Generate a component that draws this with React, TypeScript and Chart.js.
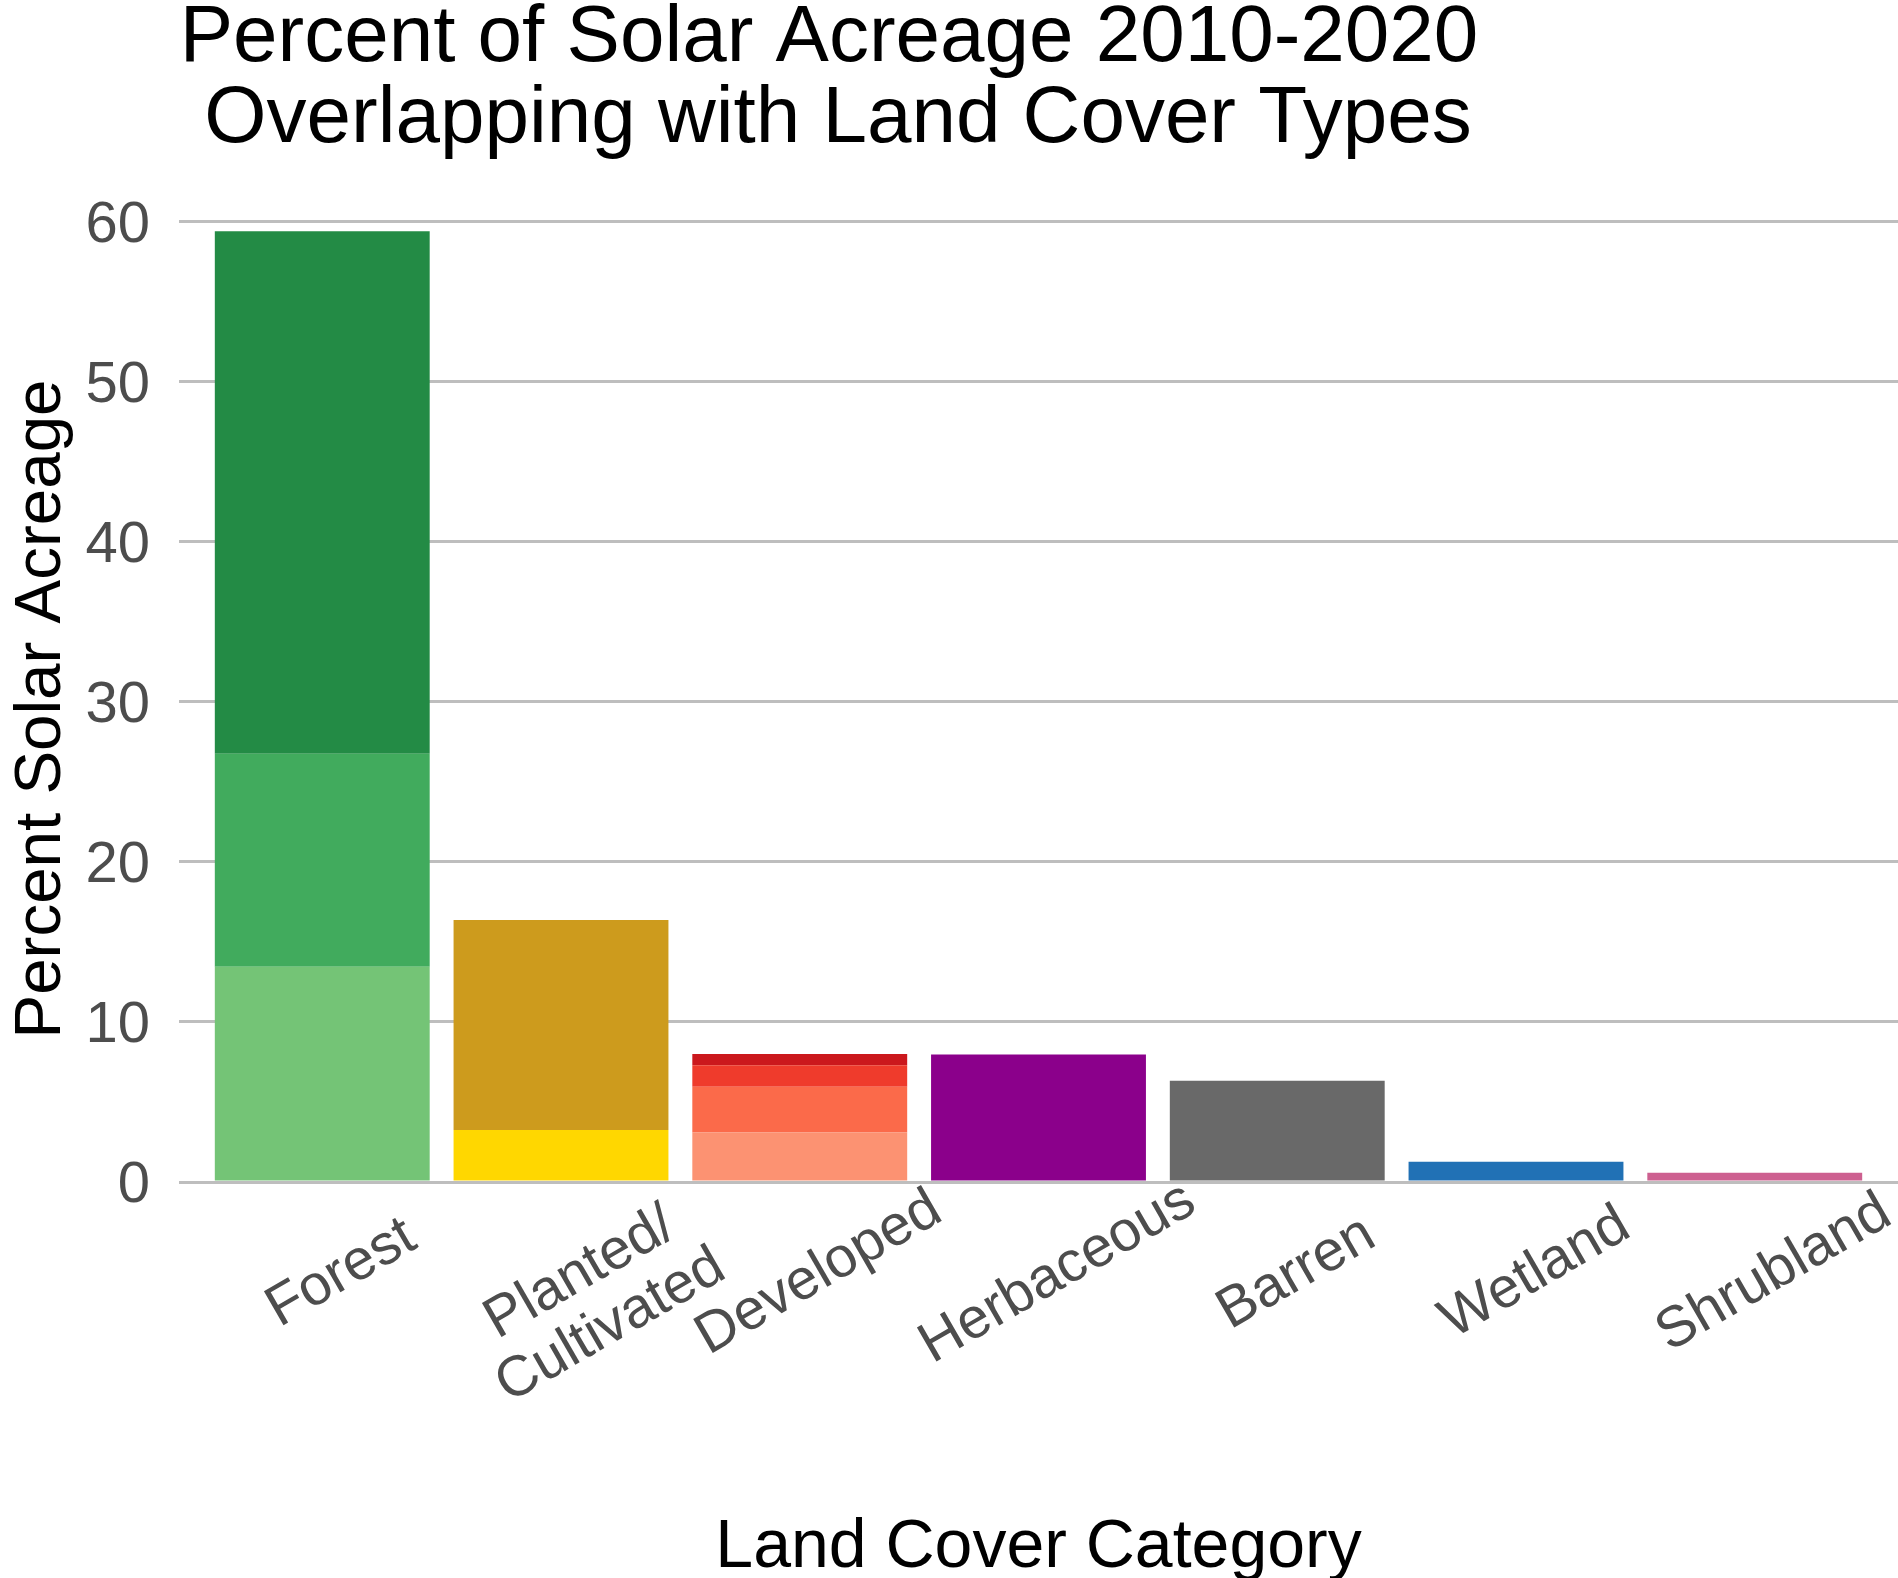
import React, { useEffect, useRef } from "react";
import { Chart, registerables } from "chart.js";

Chart.register(...registerables);

// ---- data ----
const categories: string[] = [
  "Forest",
  "Planted/\nCultivated",
  "Developed",
  "Herbaceous",
  "Barren",
  "Wetland",
  "Shrubland",
];

// stacked segments, bottom to top (percent of solar acreage)
const forestSegments: number[] = [13.45, 13.3, 32.65];
const plantedSegments: number[] = [3.25, 13.12];
const developedSegments: number[] = [3.09, 2.86, 1.35, 0.69];
const herbaceousSegments: number[] = [7.97];
const barrenSegments: number[] = [6.32];
const wetlandSegments: number[] = [1.27];
const shrublandSegments: number[] = [0.58];

const yTickValues: number[] = [0, 10, 20, 30, 40, 50, 60];

const titleLines: string[] = [
  "Percent of Solar Acreage 2010-2020",
  "Overlapping with Land Cover Types",
];
const xTitle = "Land Cover Category";
const yTitle = "Percent Solar Acreage";

// ---- styles ----
const forestColors = ["#74c476", "#41ab5d", "#238b45"];
const plantedColors = ["#ffd700", "#cd9b1d"];
const developedColors = ["#fc9272", "#fb6a4a", "#ef3b2c", "#cb181d"];
const herbaceousColors = ["#8b008b"];
const barrenColors = ["#696969"];
const wetlandColors = ["#2171b5"];
const shrublandColors = ["#cd6090"];

const segmentsByCategory = [
  forestSegments,
  plantedSegments,
  developedSegments,
  herbaceousSegments,
  barrenSegments,
  wetlandSegments,
  shrublandSegments,
];
const colorsByCategory = [
  forestColors,
  plantedColors,
  developedColors,
  herbaceousColors,
  barrenColors,
  wetlandColors,
  shrublandColors,
];

const FONT = '"Liberation Sans", Arial, Helvetica, sans-serif';
const W = 1898;
const H = 1578;
const titleCenters = [829, 838];

const textPlugin = {
  id: "ggTexts",
  afterDraw(chart: any) {
    const ctx = chart.ctx as CanvasRenderingContext2D;
    const area = chart.chartArea;
    const xScale = chart.scales.x;
    ctx.save();

    // title
    ctx.fillStyle = "#000000";
    ctx.font = `80px ${FONT}`;
    ctx.textAlign = "center";
    ctx.textBaseline = "alphabetic";
    titleLines.forEach((line, i) => {
      ctx.fillText(line, titleCenters[i], 61 + i * 81);
    });

    // x axis title
    ctx.font = `68px ${FONT}`;
    ctx.fillText(xTitle, (area.left + area.right) / 2, 1567);

    // y axis title
    ctx.save();
    ctx.font = `65.5px ${FONT}`;
    ctx.translate(60, 709);
    ctx.rotate(-Math.PI / 2);
    ctx.textAlign = "center";
    ctx.textBaseline = "alphabetic";
    ctx.fillText(yTitle, 0, 0);
    ctx.restore();

    // x tick labels, rotated 30 degrees
    ctx.fillStyle = "#4d4d4d";
    ctx.font = `57px ${FONT}`;
    const lh = 61;
    categories.forEach((cat, i) => {
      const lines = cat.split("\n");
      const tx = xScale.getPixelForValue(i + 1);
      ctx.save();
      ctx.translate(tx + 4, area.bottom + 65);
      ctx.rotate(-Math.PI / 6);
      ctx.textAlign = "center";
      ctx.textBaseline = "middle";
      lines.forEach((ln, j) => {
        ctx.fillText(ln, 0, lh * (j + 0.5));
      });
      ctx.restore();
    });

    ctx.restore();
  },
};

export default function App() {
  const canvasRef = useRef<HTMLCanvasElement | null>(null);

  useEffect(() => {
    const canvas = canvasRef.current;
    if (!canvas) return;

    const datasets: any[] = [];
    segmentsByCategory.forEach((segs, ci) => {
      segs.forEach((v, si) => {
        datasets.push({
          label: `${categories[ci]} ${si + 1}`,
          data: [{ x: ci + 1, y: v }],
          backgroundColor: colorsByCategory[ci][si],
          borderWidth: 0,
          categoryPercentage: 1,
          barPercentage: 0.9,
        });
      });
    });

    const chart = new Chart(canvas, {
      type: "bar",
      data: { datasets },
      options: {
        animation: false,
        responsive: false,
        devicePixelRatio: 1,
        layout: { padding: { left: 0, right: 0, top: 183, bottom: 0 } },
        plugins: {
          legend: { display: false },
          tooltip: { enabled: false },
          title: { display: false },
        },
        scales: {
          x: {
            type: "linear",
            stacked: true,
            offset: false,
            min: 0.4,
            max: 7.6,
            afterBuildTicks: (scale: any) => {
              scale.ticks = categories.map((_, i) => ({ value: i + 1 }));
            },
            afterFit: (scale: any) => {
              scale.height = H - 1182;
            },
            ticks: { display: false },
            grid: { display: false },
            border: { display: false },
          },
          y: {
            type: "linear",
            stacked: true,
            min: 0,
            max: 62.41,
            afterBuildTicks: (scale: any) => {
              scale.ticks = yTickValues.map((v) => ({ value: v }));
            },
            afterFit: (scale: any) => {
              scale.width = 179;
            },
            ticks: {
              color: "#4d4d4d",
              font: { family: FONT, size: 58 },
              padding: 29,
              labelOffset: 4,
            },
            grid: {
              color: "#bebebe",
              lineWidth: 3,
              drawTicks: false,
            },
            border: { display: false },
          },
        },
      },
      plugins: [textPlugin],
    });

    return () => {
      chart.destroy();
    };
  }, []);

  return (
    <div
      style={{
        position: "absolute",
        left: 0,
        top: 0,
        width: W,
        height: H,
        background: "#ffffff",
      }}
    >
      <canvas
        ref={canvasRef}
        width={W}
        height={H}
        style={{ width: W, height: H, display: "block" }}
      />
    </div>
  );
}
